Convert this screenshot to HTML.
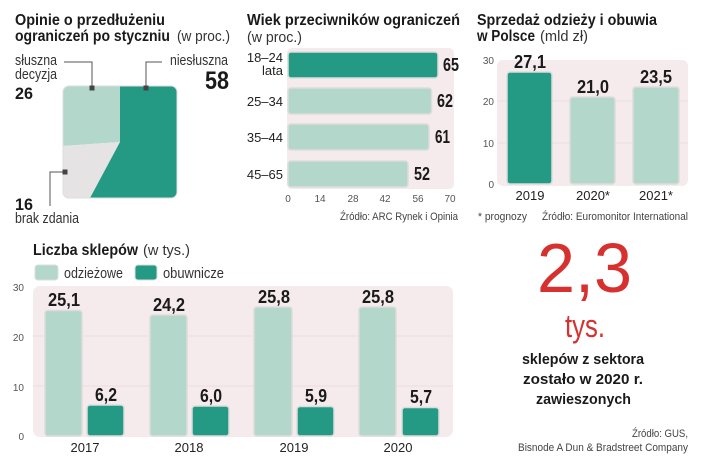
<!DOCTYPE html>
<html><head><meta charset="utf-8"><style>
html,body{margin:0;padding:0;background:#fff;}
svg{display:block;}
text{font-family:"Liberation Sans Narrow","Liberation Sans",sans-serif;fill:#1a1a1a;}
.t{font-weight:bold;font-size:16px;}
.l{font-weight:normal;font-size:15px;fill:#333;}
.ax{font-family:"Liberation Sans",sans-serif;font-size:10px;fill:#555;}
.v{font-weight:bold;font-size:18px;}
.s{font-size:11px;fill:#444;}
.c{font-family:"Liberation Sans",sans-serif;font-size:13px;fill:#222;}
</style></head><body>
<svg width="720" height="466" viewBox="0 0 720 466" xmlns="http://www.w3.org/2000/svg">
<!-- Panel 1 -->
<text class="t" x="15" y="25" textLength="150" lengthAdjust="spacingAndGlyphs">Opinie o przedłużeniu</text>
<text class="t" x="15" y="41" textLength="155" lengthAdjust="spacingAndGlyphs">ograniczeń po styczniu</text>
<text class="l" x="177" y="41" textLength="53" lengthAdjust="spacingAndGlyphs">(w proc.)</text>
<clipPath id="sq"><rect x="63" y="86" width="114" height="112" rx="6"/></clipPath>
<g clip-path="url(#sq)">
<polygon points="63,86 120,86 120,142 63,146" fill="#b3d8cb"/>
<polygon points="63,146 120,142 90,198 63,198" fill="#e6e3e4"/>
<polygon points="120,86 177,86 177,198 90,198 120,142" fill="#249a84"/>
</g>
<rect x="63" y="86" width="114" height="112" rx="6" fill="none" stroke="#ddd" stroke-width="1"/>
<text class="l" x="15" y="65" textLength="42" lengthAdjust="spacingAndGlyphs">słuszna</text>
<text class="l" x="15" y="79" textLength="42" lengthAdjust="spacingAndGlyphs">decyzja</text>
<text class="t" x="15" y="99" style="font-size:17px" textLength="18" lengthAdjust="spacingAndGlyphs">26</text>
<polyline points="64,62 92,62 92,88" fill="none" stroke="#555" stroke-width="1"/>
<rect x="89.5" y="85.5" width="5" height="5" fill="#444"/>
<text class="l" x="170" y="65" textLength="58" lengthAdjust="spacingAndGlyphs">niesłuszna</text>
<text class="t" x="205" y="89" style="font-size:25px" textLength="24" lengthAdjust="spacingAndGlyphs">58</text>
<polyline points="162,62 146,62 146,88" fill="none" stroke="#555" stroke-width="1"/>
<rect x="143.5" y="85.5" width="5" height="5" fill="#444"/>
<polyline points="65,172 50,172 50,206" fill="none" stroke="#555" stroke-width="1"/>
<rect x="62.5" y="169.5" width="5" height="5" fill="#444"/>
<text class="t" x="15" y="210" style="font-size:17px" textLength="18" lengthAdjust="spacingAndGlyphs">16</text>
<text class="l" x="15" y="223" textLength="64" lengthAdjust="spacingAndGlyphs">brak zdania</text>

<!-- Panel 2 -->
<text class="t" x="247" y="25" textLength="213" lengthAdjust="spacingAndGlyphs">Wiek przeciwników ograniczeń</text>
<text class="l" x="247" y="42" textLength="55" lengthAdjust="spacingAndGlyphs">(w proc.)</text>
<rect x="287" y="48" width="167" height="141" rx="5" fill="#f5eaec"/>
<rect x="288" y="52" width="150" height="26" rx="3" fill="#249a84" stroke="#dcdcdc" stroke-width="1.5"/>
<rect x="288" y="88" width="143.5" height="26" rx="3" fill="#b3d8cb" stroke="#dcdcdc" stroke-width="1.5"/>
<rect x="288" y="124" width="141" height="26" rx="3" fill="#b3d8cb" stroke="#dcdcdc" stroke-width="1.5"/>
<rect x="288" y="161" width="120" height="26" rx="3" fill="#b3d8cb" stroke="#dcdcdc" stroke-width="1.5"/>
<text class="v" x="443" y="71" textLength="16" lengthAdjust="spacingAndGlyphs">65</text>
<text class="v" x="437" y="107" textLength="16" lengthAdjust="spacingAndGlyphs">62</text>
<text class="v" x="435" y="143" textLength="15" lengthAdjust="spacingAndGlyphs">61</text>
<text class="v" x="414" y="180" textLength="16" lengthAdjust="spacingAndGlyphs">52</text>
<text class="c" x="283" y="62" text-anchor="end">18–24</text>
<text class="c" x="283" y="75" text-anchor="end">lata</text>
<text class="c" x="283" y="106" text-anchor="end">25–34</text>
<text class="c" x="283" y="142" text-anchor="end">35–44</text>
<text class="c" x="283" y="179" text-anchor="end">45–65</text>
<text class="ax" x="288" y="202" text-anchor="middle">0</text><text class="ax" x="320" y="202" text-anchor="middle">14</text><text class="ax" x="353" y="202" text-anchor="middle">28</text><text class="ax" x="385" y="202" text-anchor="middle">42</text><text class="ax" x="418" y="202" text-anchor="middle">56</text><text class="ax" x="450" y="202" text-anchor="middle">70</text>
<text class="s" x="340" y="220" textLength="118" lengthAdjust="spacingAndGlyphs">Źródło: ARC Rynek i Opinia</text>

<!-- Panel 3 -->
<text class="t" x="477" y="25" textLength="180" lengthAdjust="spacingAndGlyphs">Sprzedaż odzieży i obuwia</text>
<text class="t" x="477" y="41" textLength="58" lengthAdjust="spacingAndGlyphs">w Polsce</text>
<text class="l" x="540" y="41" textLength="48" lengthAdjust="spacingAndGlyphs">(mld zł)</text>
<rect x="497" y="60" width="191" height="126" rx="6" fill="#f5eaec"/>
<line x1="497" y1="101" x2="688" y2="101" stroke="#eddde0"/>
<line x1="497" y1="143" x2="688" y2="143" stroke="#eddde0"/>
<text class="ax" x="494" y="64" text-anchor="end">30</text>
<text class="ax" x="494" y="105" text-anchor="end">20</text>
<text class="ax" x="494" y="147" text-anchor="end">10</text>
<text class="ax" x="494" y="188" text-anchor="end">0</text>
<rect x="507" y="72" width="45" height="112" rx="3" fill="#249a84" stroke="#dcdcdc" stroke-width="1.5"/>
<rect x="570" y="97" width="45" height="87" rx="3" fill="#b3d8cb" stroke="#dcdcdc" stroke-width="1.5"/>
<rect x="633" y="87" width="46" height="97" rx="3" fill="#b3d8cb" stroke="#dcdcdc" stroke-width="1.5"/>
<text class="v" x="514" y="68" textLength="32" lengthAdjust="spacingAndGlyphs">27,1</text>
<text class="v" x="577" y="93" textLength="32" lengthAdjust="spacingAndGlyphs">21,0</text>
<text class="v" x="640" y="83" textLength="32" lengthAdjust="spacingAndGlyphs">23,5</text>
<text class="c" x="530" y="200" text-anchor="middle">2019</text>
<text class="c" x="593" y="200" text-anchor="middle">2020*</text>
<text class="c" x="656" y="200" text-anchor="middle">2021*</text>
<text class="s" x="478" y="220" textLength="49" lengthAdjust="spacingAndGlyphs">* prognozy</text>
<text class="s" x="542" y="220" textLength="146" lengthAdjust="spacingAndGlyphs">Źródło: Euromonitor International</text>

<!-- Panel 4 -->
<text class="t" x="33" y="255" textLength="105" lengthAdjust="spacingAndGlyphs">Liczba sklepów</text>
<text class="l" x="143" y="255" textLength="47" lengthAdjust="spacingAndGlyphs">(w tys.)</text>
<rect x="35" y="265" width="23" height="15" rx="3" fill="#b3d8cb" stroke="#dcdcdc"/>
<text class="l" x="64" y="278" textLength="59" lengthAdjust="spacingAndGlyphs">odzieżowe</text>
<rect x="135" y="265" width="22" height="15" rx="3" fill="#249a84" stroke="#dcdcdc"/>
<text class="l" x="163" y="278" textLength="61" lengthAdjust="spacingAndGlyphs">obuwnicze</text>
<rect x="33" y="286" width="420" height="151" rx="7" fill="#f5eaec"/>
<line x1="33" y1="336" x2="453" y2="336" stroke="#eddde0"/>
<line x1="33" y1="386" x2="453" y2="386" stroke="#eddde0"/>
<text class="ax" x="24" y="291" text-anchor="end">30</text>
<text class="ax" x="24" y="341" text-anchor="end">20</text>
<text class="ax" x="24" y="391" text-anchor="end">10</text>
<text class="ax" x="24" y="440" text-anchor="end">0</text>
<g stroke="#dcdcdc" stroke-width="1.5">
<rect x="45" y="310.5" width="37" height="125.5" rx="3" fill="#b3d8cb"/>
<rect x="87" y="405" width="37" height="31" rx="3" fill="#249a84"/>
<rect x="150" y="315" width="37" height="121" rx="3" fill="#b3d8cb"/>
<rect x="192" y="406" width="37" height="30" rx="3" fill="#249a84"/>
<rect x="254" y="307" width="38" height="129" rx="3" fill="#b3d8cb"/>
<rect x="297" y="406.5" width="37" height="29.5" rx="3" fill="#249a84"/>
<rect x="359" y="307" width="37" height="129" rx="3" fill="#b3d8cb"/>
<rect x="402" y="407.5" width="37" height="28.5" rx="3" fill="#249a84"/>
</g>
<text class="v" x="48" y="306" textLength="32" lengthAdjust="spacingAndGlyphs">25,1</text>
<text class="v" x="95" y="401" textLength="22" lengthAdjust="spacingAndGlyphs">6,2</text>
<text class="v" x="153" y="311" textLength="32" lengthAdjust="spacingAndGlyphs">24,2</text>
<text class="v" x="200" y="402" textLength="22" lengthAdjust="spacingAndGlyphs">6,0</text>
<text class="v" x="258" y="303" textLength="32" lengthAdjust="spacingAndGlyphs">25,8</text>
<text class="v" x="305" y="402" textLength="22" lengthAdjust="spacingAndGlyphs">5,9</text>
<text class="v" x="362" y="303" textLength="32" lengthAdjust="spacingAndGlyphs">25,8</text>
<text class="v" x="410" y="403" textLength="22" lengthAdjust="spacingAndGlyphs">5,7</text>
<text class="c" x="85" y="452" text-anchor="middle">2017</text>
<text class="c" x="189" y="452" text-anchor="middle">2018</text>
<text class="c" x="294" y="452" text-anchor="middle">2019</text>
<text class="c" x="398" y="452" text-anchor="middle">2020</text>

<!-- Right -->
<text x="537" y="292" style="font-family:'Liberation Sans',sans-serif;font-size:70px;fill:#d7312f" textLength="95" lengthAdjust="spacingAndGlyphs">2,3</text>
<text x="565" y="337" style="font-size:32px;fill:#d7312f" textLength="40" lengthAdjust="spacingAndGlyphs">tys.</text>
<text x="522" y="364" style="font-weight:bold;font-size:15px" textLength="122" lengthAdjust="spacingAndGlyphs">sklepów z sektora</text>
<text x="523" y="384" style="font-weight:bold;font-size:15px" textLength="120" lengthAdjust="spacingAndGlyphs">zostało w 2020 r.</text>
<text x="536" y="404" style="font-weight:bold;font-size:15px" textLength="95" lengthAdjust="spacingAndGlyphs">zawieszonych</text>
<text class="s" x="632" y="437" textLength="56" lengthAdjust="spacingAndGlyphs">Źródło: GUS,</text>
<text class="s" x="518" y="451" textLength="170" lengthAdjust="spacingAndGlyphs">Bisnode A Dun &amp; Bradstreet Company</text>
</svg>
</body></html>
